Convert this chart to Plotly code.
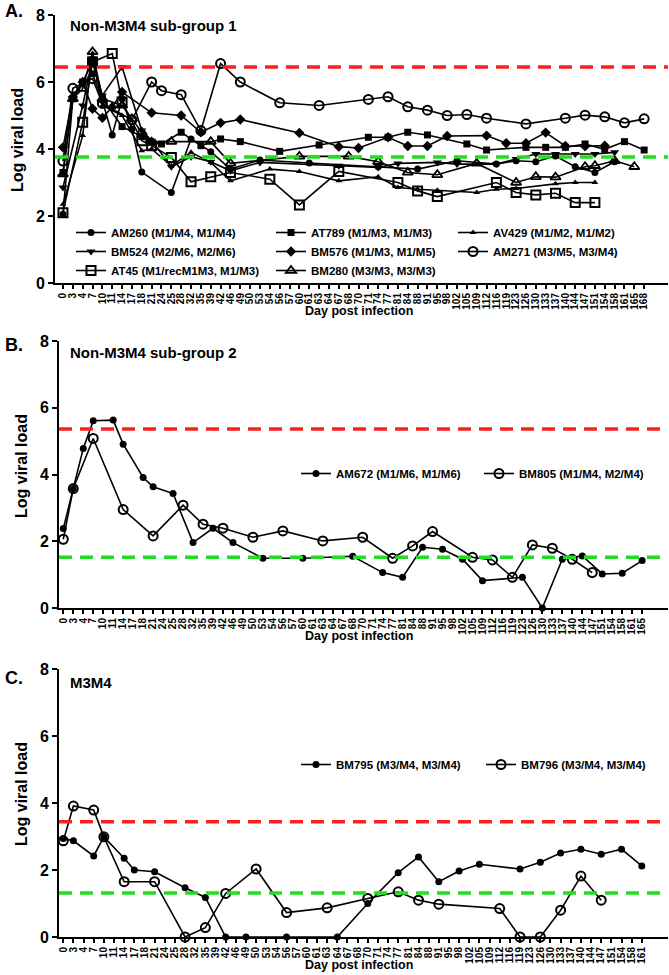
import plotly.graph_objects as go
from plotly.subplots import make_subplots

W, H = 669, 975
FONT = "Liberation Sans, Arial, sans-serif"

# x categories (days) for each panel
days_a = [0, 3, 4, 7, 10, 11, 14, 17, 18, 21, 24, 25, 28, 32, 35, 39, 42, 46, 49, 50, 53, 54, 56, 57,
          60, 61, 63, 64, 67, 68, 70, 71, 74, 77, 81, 84, 88, 91, 95, 98, 102, 105, 109, 112, 116,
          119, 123, 126, 130, 133, 137, 140, 144, 147, 151, 154, 158, 161, 165, 168]
days_b = days_a[:-1]
days_c = days_a[:-2]

# panel A
am260_days = [0, 3, 4, 7, 10, 11, 14, 17, 18, 25, 32, 39, 46, 53, 61, 74, 88, 102, 116, 123, 130, 137, 144, 151, 158]
am260_vals = [2.05, 5.5, 5.95, 6.25, 5.45, 4.42, 5.5, 4.6, 3.31, 2.7, 4.3, 3.92, 3.4, 3.67, 3.58, 3.47, 3.4, 3.65,
              3.55, 3.65, 3.62, 3.79, 3.47, 3.3, 3.62]
at789_days = [0, 3, 4, 7, 10, 14, 18, 21, 24, 28, 35, 42, 49, 56, 63, 71, 77, 84, 91, 105, 112, 126, 133, 140,
              147, 154, 161, 168]
at789_vals = [3.3, 5.5, 6.0, 6.6, 5.5, 4.67, 4.37, 4.2, 4.15, 4.5, 4.1, 4.3, 4.22, 3.93, 4.12, 4.35, 4.35, 4.5,
              4.42, 4.15, 3.97, 4.05, 4.05, 4.05, 4.15, 3.99, 4.22, 3.97]
av429_days = [0, 4, 7, 10, 14, 18, 21, 25, 32, 39, 46, 54, 60, 67, 74, 81, 88, 95, 109, 116, 123, 137, 144, 151]
av429_vals = [2.35, 4.4, 6.85, 5.3, 5.0, 3.95, 4.0, 3.5, 3.9, 3.6, 3.05, 3.4, 3.33, 3.05, 3.17, 2.85, 2.8, 2.77,
              2.7, 2.8, 2.82, 2.96, 3.0, 3.0]
bm524_days = [0, 4, 7, 10, 14, 18, 21, 25, 32, 39, 46, 53, 67, 74, 81, 95, 102, 116, 123, 130, 137, 144, 151, 158]
bm524_vals = [2.85, 5.3, 6.7, 5.6, 6.45, 4.55, 4.25, 3.47, 3.77, 3.62, 3.35, 3.6, 3.5, 3.45, 3.57, 3.6, 3.55,
              3.55, 3.7, 3.85, 3.85, 3.85, 3.85, 3.9]
bm576_days = [0, 3, 4, 7, 10, 11, 14, 21, 28, 35, 42, 49, 60, 67, 70, 77, 84, 91, 98, 112, 119, 126, 133, 140,
              147, 154]
bm576_vals = [4.05, 5.55, 6.0, 5.2, 4.93, 5.25, 5.7, 5.08, 5.0, 4.5, 4.78, 4.88, 4.48, 4.07, 4.03, 4.35, 4.09,
              4.09, 4.39, 4.4, 4.17, 4.17, 4.49, 4.09, 4.08, 4.1]
am271_days = [0, 3, 7, 10, 17, 21, 24, 28, 35, 42, 49, 56, 63, 71, 77, 84, 91, 98, 105, 112, 126, 140, 147, 154,
              161, 168]
am271_vals = [3.64, 5.81, 6.1, 5.36, 4.87, 6.0, 5.74, 5.62, 4.55, 6.55, 6.0, 5.38, 5.3, 5.48, 5.56, 5.26, 5.16,
              5.0, 5.03, 4.92, 4.75, 4.92, 5.01, 4.96, 4.78, 4.9]
at45_days = [0, 4, 7, 11, 14, 18, 21, 25, 32, 39, 46, 54, 60, 67, 81, 88, 95, 116, 123, 130, 137, 144, 151]
at45_vals = [2.1, 4.8, 6.6, 6.85, 5.4, 4.25, 4.1, 3.75, 3.02, 3.17, 3.3, 3.1, 2.33, 3.33, 3.0, 2.75, 2.58, 3.0,
             2.7, 2.63, 2.68, 2.4, 2.4]
bm280_days = [0, 3, 4, 7, 10, 14, 17, 18, 21, 25, 39, 46, 60, 68, 74, 84, 95, 109, 123, 130, 137, 147, 151, 158, 165]
bm280_vals = [3.25, 5.5, 5.8, 6.9, 5.5, 5.3, 4.9, 4.5, 4.2, 4.22, 4.22, 3.57, 3.78, 3.78, 3.62, 3.3, 3.23, 3.57,
              3.0, 3.17, 3.16, 3.47, 3.5, 3.65, 3.47]

# panel B
am672_days = [0, 3, 4, 7, 11, 14, 18, 21, 25, 32, 39, 46, 53, 60, 68, 74, 81, 88, 95, 102, 109, 123, 130, 137,
              144, 151, 158, 165]
am672_vals = [2.38, 3.58, 4.78, 5.61, 5.63, 4.91, 3.91, 3.63, 3.43, 1.96, 2.39, 1.96, 1.49, 1.49, 1.55, 1.06, 0.92,
              1.82, 1.76, 1.46, 0.82, 0.92, 0.0, 1.46, 1.56, 1.02, 1.04, 1.42]
bm805_days = [0, 3, 7, 14, 21, 28, 35, 42, 50, 56, 63, 70, 77, 84, 91, 105, 112, 119, 126, 133, 140, 147]
bm805_vals = [2.06, 3.58, 5.08, 2.95, 2.16, 3.08, 2.51, 2.39, 2.12, 2.31, 2.01, 2.12, 1.49, 1.86, 2.29, 1.52, 1.44,
              0.92, 1.89, 1.79, 1.46, 1.06]

# panel C
bm795_days = [0, 3, 7, 10, 14, 17, 21, 28, 35, 42, 49, 56, 64, 70, 77, 84, 91, 98, 105, 119, 126, 133, 140, 147,
              154, 161]
bm795_vals = [2.94, 2.87, 2.42, 2.99, 2.35, 2.0, 1.95, 1.47, 1.18, 0, 0, 0, 0, 1.0, 1.92, 2.39, 1.65, 1.97, 2.17,
              2.03, 2.23, 2.51, 2.62, 2.47, 2.62, 2.12]
bm796_days = [0, 3, 7, 10, 14, 21, 28, 35, 42, 50, 56, 63, 70, 77, 84, 91, 112, 119, 126, 133, 140, 147]
bm796_vals = [2.87, 3.91, 3.79, 2.99, 1.65, 1.65, 0, 0.28, 1.3, 2.03, 0.73, 0.87, 1.15, 1.35, 1.1, 0.98, 0.85, 0,
              0, 0.8, 1.82, 1.1]

# dashed reference levels (red, green) per panel
red_levels = [6.45, 5.36, 3.44]
green_levels = [3.76, 1.52, 1.31]

FILLED_C = dict(symbol="circle", size=7, color="black")
OPEN_C = dict(symbol="circle-open", size=9, color="black", line=dict(width=2))


def px_x(p):
    return p / W


def px_y(p):
    return 1 - p / H


fig = make_subplots(rows=3, cols=1)

series_a = [
    ("AM260 (M1/M4, M1/M4)", am260_days, am260_vals, FILLED_C, "legend"),
    ("AT789 (M1/M3, M1/M3)", at789_days, at789_vals, dict(symbol="square", size=7, color="black"), "legend2"),
    ("AV429 (M1/M2, M1/M2)", av429_days, av429_vals, dict(symbol="triangle-up", size=6, color="black"), "legend3"),
    ("BM524 (M2/M6, M2/M6)", bm524_days, bm524_vals, dict(symbol="triangle-down", size=8, color="black"), "legend"),
    ("BM576 (M1/M3, M1/M5)", bm576_days, bm576_vals, dict(symbol="diamond", size=8, color="black"), "legend2"),
    ("AM271 (M3/M5, M3/M4)", am271_days, am271_vals, OPEN_C, "legend3"),
    ("AT45 (M1/recM1M3, M1/M3)", at45_days, at45_vals,
     dict(symbol="square-open", size=9, color="black", line=dict(width=2)), "legend"),
    ("BM280 (M3/M3, M3/M3)", bm280_days, bm280_vals,
     dict(symbol="triangle-up-open", size=9, color="black", line=dict(width=1.8)), "legend2"),
]
series_b = [
    ("AM672 (M1/M6, M1/M6)", am672_days, am672_vals, FILLED_C, "legend4"),
    ("BM805 (M1/M4, M2/M4)", bm805_days, bm805_vals, OPEN_C, "legend5"),
]
series_c = [
    ("BM795 (M3/M4, M3/M4)", bm795_days, bm795_vals, FILLED_C, "legend6"),
    ("BM796 (M3/M4, M3/M4)", bm796_days, bm796_vals, OPEN_C, "legend7"),
]

for row, series in [(1, series_a), (2, series_b), (3, series_c)]:
    for name, d, v, mk, lg in series:
        fig.add_trace(go.Scatter(x=[str(x) for x in d], y=v, mode="lines+markers", name=name,
                                 line=dict(color="black", width=1.6), marker=mk, cliponaxis=False,
                                 legend=lg), row=row, col=1)

# panel geometry (pixels): y-axis x, top (y=8), bottom (y=0), x range
panels = [
    (55, 15, 283, days_a, [-0.81, 61.42]),
    (59, 341, 608, days_b, [-0.43, 60.59]),
    (59, 669, 937, days_c, [-0.42, 59.58]),
]
for i, (xl, top, bot, cats, rng) in enumerate(panels):
    r = i + 1
    labels = [str(d) for d in cats]
    fig.update_xaxes(type="category", categoryorder="array", categoryarray=labels,
                     tickmode="array", tickvals=labels, ticktext=labels, range=rng,
                     domain=[px_x(xl), px_x(668)], tickangle=-90, automargin=False,
                     tickfont=dict(family=FONT, size=10, color="black", weight="bold"),
                     ticks="outside", ticklen=4, tickwidth=1.5, tickcolor="black",
                     showline=True, linewidth=2, linecolor="black", showgrid=False, zeroline=False,
                     row=r, col=1)
    fig.update_yaxes(range=[0, 8], tickvals=[0, 2, 4, 6, 8], domain=[px_y(bot), px_y(top)],
                     tickfont=dict(family=FONT, size=16, color="black", weight="bold"), automargin=False,
                     ticks="outside", ticklen=5, tickwidth=2, tickcolor="black",
                     showline=True, linewidth=2, linecolor="black", showgrid=False, zeroline=False,
                     row=r, col=1)
    fig.add_hline(y=red_levels[i], line=dict(color="#ff1f1f", width=3.5, dash="13px,8px"), row=r, col=1)
    fig.add_hline(y=green_levels[i], line=dict(color="#22dd22", width=3.5, dash="13px,8px"), row=r, col=1)

ann = []


def text_at(txt, x, y, size, xanchor="left", angle=0):
    ann.append(dict(text=txt, x=px_x(x), y=px_y(y), xref="paper", yref="paper", showarrow=False,
                    xanchor=xanchor, yanchor="middle", textangle=angle,
                    font=dict(family=FONT, size=size, color="black", weight="bold")))


text_at("A.", 3, 11, 18)
text_at("B.", 3, 345, 18)
text_at("C.", 3, 678, 18)
text_at("Non-M3M4 sub-group 1", 68, 25, 15)
text_at("Non-M3M4 sub-group 2", 68, 353, 15)
text_at("M3M4", 68, 682, 15)
for yy in [311, 636, 965]:
    text_at("Day post infection", 359, yy, 12.5, xanchor="center")
for xx, yy in [(18, 140), (21, 466), (21, 794)]:
    text_at("Log viral load", xx, yy, 16, xanchor="center", angle=-90)

lfont = dict(family=FONT, size=11.5, color="black", weight="bold")
legend_pos = {
    "legend": (71, 218), "legend2": (271, 218), "legend3": (453, 218),
    "legend4": (296, 459), "legend5": (479, 459),
    "legend6": (296, 750), "legend7": (481, 750),
}
leg_layout = {}
for key, (lx, ly) in legend_pos.items():
    leg_layout[key] = dict(x=px_x(lx), y=px_y(ly), xanchor="left", yanchor="top", font=lfont,
                           bgcolor="rgba(0,0,0,0)", borderwidth=0, tracegroupgap=0)

fig.update_layout(width=W, height=H, margin=dict(l=0, r=0, t=0, b=0, autoexpand=False),
                  plot_bgcolor="white", paper_bgcolor="white", showlegend=True,
                  font=dict(family=FONT, color="black"), annotations=ann, **leg_layout)

fig.write_html("out.html", config={"displayModeBar": False},
               post_script="document.body.style.margin='0px';")
